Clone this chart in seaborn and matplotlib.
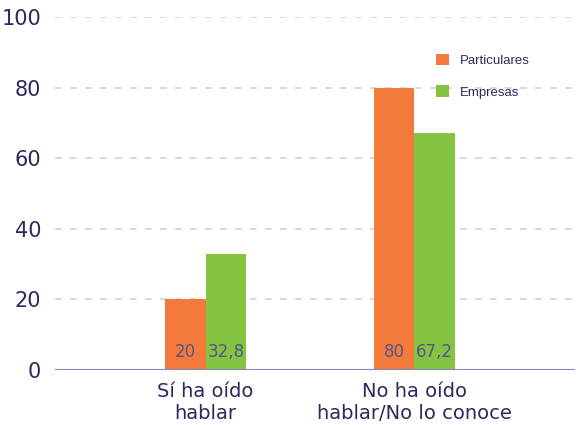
import numpy as np
import pandas as pd
import matplotlib.pyplot as plt
import seaborn as sns

# ── Data ──────────────────────────────────────────────────────────────────────
categories = ["Sí ha oído\nhablar", "No ha oído\nhablar/No lo conoce"]
series     = ["Particulares", "Empresas"]
particulares = [20, 80]
empresas     = [32.8, 67.2]
value_labels = [["20", "80"], ["32,8", "67,2"]]
yticks = [0, 20, 40, 60, 80, 100]

colors = ["#f47a3c", "#84c440"]
navy   = "#2b2a5e"

df = pd.DataFrame({
    "cat": categories * 2,
    "serie": [series[0]] * 2 + [series[1]] * 2,
    "val": particulares + empresas,
})

sns.set_style("white")
fig = plt.figure(figsize=(5.81, 4.25), dpi=100)
ax = fig.add_axes([0.095, 0.13, 0.895, 0.83])

sns.barplot(data=df, x="cat", y="val", hue="serie", palette=colors,
            width=0.39, ax=ax, saturation=1, legend=True, linewidth=0)

# value labels at the base of each bar
for cont, labs in zip(ax.containers, value_labels):
    for bar, lab in zip(cont, labs):
        ax.text(bar.get_x() + bar.get_width() / 2, 2.5, lab, ha="center",
                va="bottom", fontsize=12, color="#55558a")

ax.set_ylim(0, 100)
ax.set_xlim(-0.72, 1.77)
ax.set_yticks(yticks)
for y in yticks[1:]:
    ax.axhline(y, color="#d0d0dc", lw=1.2, ls=(0, (4, 5)), zorder=0)
ax.axhline(0, color="#8585c0", lw=1.5, zorder=3)

for s in ax.spines.values():
    s.set_visible(False)
ax.tick_params(axis="both", length=0, colors=navy)
ax.tick_params(axis="y", labelsize=15, pad=10)
ax.tick_params(axis="x", labelsize=14, pad=9)
ax.set_xlabel("")
ax.set_ylabel("")

leg = ax.legend(loc="upper left", bbox_to_anchor=(0.71, 0.93), frameon=False,
                fontsize=9.5, handlelength=1.0, handleheight=1.0,
                labelspacing=1.4, handletextpad=0.8)
for t in leg.get_texts():
    t.set_color(navy)
    t.set_family("Liberation Sans")

fig.savefig("out.png", dpi=100)
